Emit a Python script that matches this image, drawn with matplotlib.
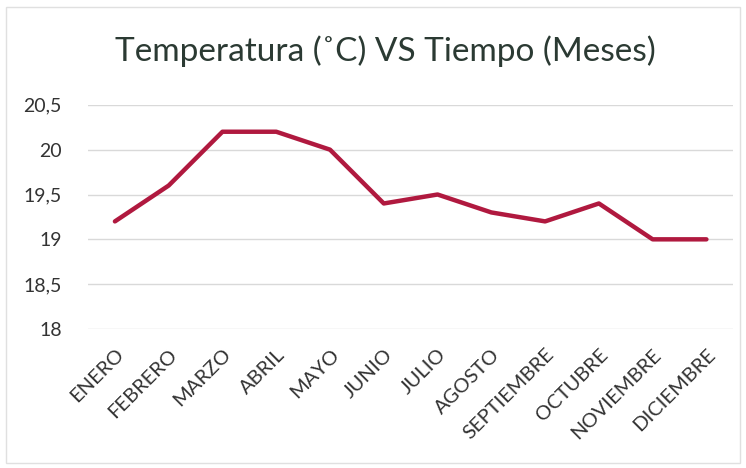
import matplotlib.pyplot as plt
from matplotlib.patches import Rectangle

meses = ["ENERO", "FEBRERO", "MARZO", "ABRIL", "MAYO", "JUNIO", "JULIO",
         "AGOSTO", "SEPTIEMBRE", "OCTUBRE", "NOVIEMBRE", "DICIEMBRE"]
temperatura = [19.2, 19.6, 20.2, 20.2, 20.0, 19.4, 19.5, 19.3, 19.2, 19.4, 19.0, 19.0]
y_ticks = [18, 18.5, 19, 19.5, 20, 20.5]
y_labels = ["18", "18,5", "19", "19,5", "20", "20,5"]

plt.rcParams['font.family'] = ['Lato', 'DejaVu Sans']

fig = plt.figure(figsize=(7.46, 4.68), dpi=100)
ax = fig.add_axes([0.118, 0.297, 0.865, 0.479])

x = list(range(len(meses)))
ax.plot(x, temperatura, color="#B0193F", linewidth=3.2, solid_capstyle="round")

ax.set_xlim(-0.5, len(meses) - 0.5)
ax.set_ylim(18, 20.5)
ax.set_yticks(y_ticks)
ax.set_yticklabels(y_labels, fontsize=14, color="#333333")
ax.set_xticks(x)
ax.set_xticklabels(meses, rotation=45, ha="right", rotation_mode="anchor",
                   fontsize=14.5, color="#333333")
ax.tick_params(length=0, axis="both")
ax.tick_params(axis="y", pad=19)
ax.tick_params(axis="x", pad=12)
ax.grid(axis="y", color="#d9d9d9", linewidth=1)
for s in ax.spines.values():
    s.set_visible(False)

fig.text(0.516, 0.89, "Temperatura (˚C) VS Tiempo (Meses)", ha="center", va="center",
         fontsize=24, color="#2b3a33")

fig.patches.append(Rectangle((0.008, 0.01), 0.984, 0.975, transform=fig.transFigure,
                             fill=False, edgecolor="#e0e0e0", linewidth=1))

fig.savefig("out.png", dpi=100)
